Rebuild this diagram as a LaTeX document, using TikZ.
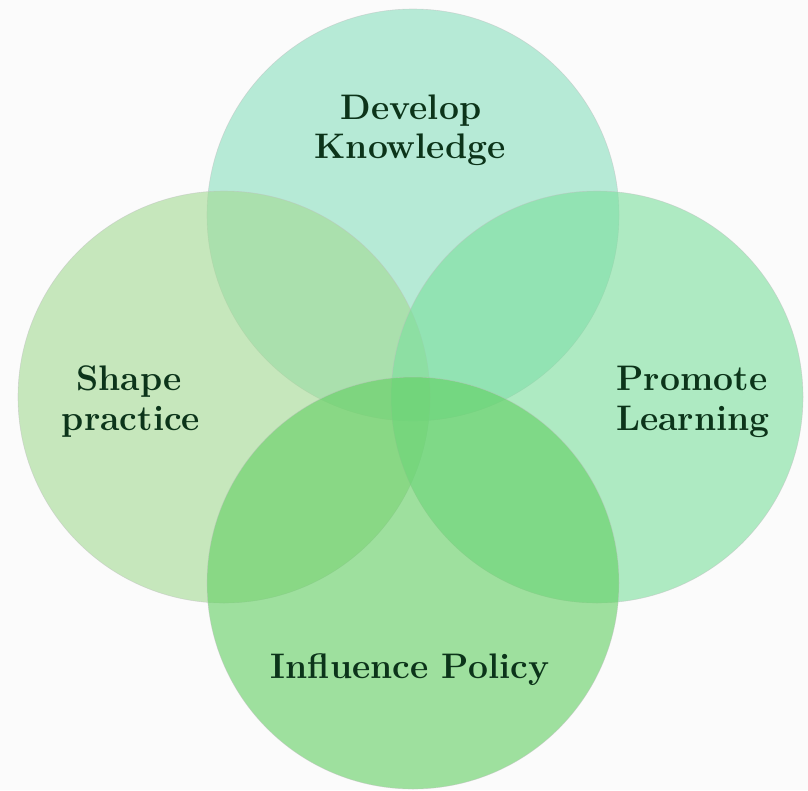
\documentclass[tikz,border=0pt]{standalone}
\begin{document}
\begin{tikzpicture}[x=1pt,y=-1pt,
  bubble/.style={circle, inner sep=0pt, minimum size=412pt, fill opacity=0.6, draw=black!25, draw opacity=0.5, line width=0.6pt},
  label/.style={font=\fontsize{35.5}{40}\selectfont\bfseries, text=txtgreen, align=center, anchor=base, inner sep=0pt}]
\definecolor{bgcol}{RGB}{251,251,251}
\definecolor{ctop}{RGB}{137,223,190}
\definecolor{cleft}{RGB}{163,218,147}
\definecolor{cright}{RGB}{123,223,157}
\definecolor{cbottom}{RGB}{97,207,97}
\definecolor{txtgreen}{RGB}{12,52,26}
\useasboundingbox (0,0) rectangle (808,790);
\fill[bgcol] (0,0) rectangle (808,790);
\node[bubble, fill=ctop] (top) at (413,215) {};
\node[bubble, fill=cleft] (left) at (224,397) {};
\node[bubble, fill=cright] (right) at (597,397) {};
\node[bubble, fill=cbottom] (bottom) at (413,583) {};
\node[label] (dev) at (411,119) {Develop};
\node[label] (know) at (410,158) {Knowledge};
\node[label] (shape) at (129,390) {Shape};
\node[label] (pract) at (131,430) {practice};
\node[label] (prom) at (692,390) {Promote};
\node[label] (learn) at (693,430) {Learning};
\node[label] (infl) at (410,678) {Influence Policy};
\end{tikzpicture}
\end{document}
